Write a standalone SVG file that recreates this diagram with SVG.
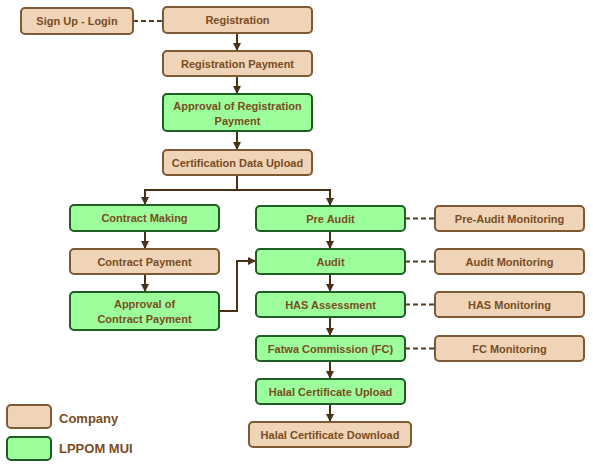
<svg xmlns="http://www.w3.org/2000/svg" width="593" height="465" viewBox="0 0 593 465">
<style>
.co rect{fill:#EFD4B7;stroke:#7E5A34;stroke-width:2}
.lp rect{fill:#9CFF9C;stroke:#1E5E22;stroke-width:2}
text{font-family:"Liberation Sans",Arial,sans-serif;font-weight:bold;font-size:11px;fill:#7A4C22;text-anchor:middle}
.leg{font-size:13px;text-anchor:start}
.ln{fill:none;stroke:#4B3018;stroke-width:2}
.ds{fill:none;stroke:#5A3A1C;stroke-width:2;stroke-dasharray:5 3}
</style>
<defs>
<marker id="ah" viewBox="0 0 8 8" refX="7" refY="4" markerWidth="4" markerHeight="4" orient="auto" markerUnits="strokeWidth">
<path d="M0,0 L8,4 L0,8 z" fill="#4B3018"/>
</marker>
</defs>
<rect width="593" height="465" fill="#ffffff"/>
<g id="connectors">
<path class="ds" d="M133,21 H163"/>
<path class="ds" d="M405,218.5 H435"/>
<path class="ds" d="M405,261.5 H435"/>
<path class="ds" d="M405,304.5 H435"/>
<path class="ds" d="M405,348.5 H435"/>
<path class="ln" marker-end="url(#ah)" d="M237,33 V50"/>
<path class="ln" marker-end="url(#ah)" d="M237,76 V93"/>
<path class="ln" marker-end="url(#ah)" d="M237,131 V149"/>
<path class="ln" d="M237,175 V190 M145,190 H331"/>
<path class="ln" marker-end="url(#ah)" d="M145,189 V204"/>
<path class="ln" marker-end="url(#ah)" d="M330,189 V205"/>
<path class="ln" marker-end="url(#ah)" d="M145,231 V248"/>
<path class="ln" marker-end="url(#ah)" d="M145,274 V291"/>
<path class="ln" marker-end="url(#ah)" d="M219,311 H237 V261 H255"/>
<path class="ln" marker-end="url(#ah)" d="M330,231 V248"/>
<path class="ln" marker-end="url(#ah)" d="M330,274 V291"/>
<path class="ln" marker-end="url(#ah)" d="M330,317 V335"/>
<path class="ln" marker-end="url(#ah)" d="M330,361 V378"/>
<path class="ln" marker-end="url(#ah)" d="M330,404 V421"/>
</g>
<g id="signup" class="co"><rect x="21" y="8" width="112" height="26" rx="4"/><text x="77" y="25">Sign Up - Login</text></g>
<g id="registration" class="co"><rect x="163" y="7" width="149" height="26" rx="4"/><text x="237.5" y="24">Registration</text></g>
<g id="regpay" class="co"><rect x="163" y="51" width="149" height="25" rx="4"/><text x="237.5" y="67.5">Registration Payment</text></g>
<g id="approvalreg" class="lp"><rect x="163" y="94" width="149" height="37" rx="4"/><text x="237.5" y="109.5">Approval of Registration</text><text x="237.5" y="124.5">Payment</text></g>
<g id="cdu" class="co"><rect x="163" y="150" width="149" height="25" rx="4"/><text x="237.5" y="166.5">Certification Data Upload</text></g>
<g id="contractmaking" class="lp"><rect x="70" y="205" width="149" height="26" rx="4"/><text x="144.5" y="222">Contract Making</text></g>
<g id="contractpay" class="co"><rect x="70" y="249" width="149" height="25" rx="4"/><text x="144.5" y="265.5">Contract Payment</text></g>
<g id="approvalcp" class="lp"><rect x="70" y="292" width="149" height="38" rx="4"/><text x="144.5" y="308">Approval of</text><text x="144.5" y="323">Contract Payment</text></g>
<g id="preaudit" class="lp"><rect x="256" y="206" width="149" height="25" rx="4"/><text x="330.5" y="222.5">Pre Audit</text></g>
<g id="audit" class="lp"><rect x="256" y="249" width="149" height="25" rx="4"/><text x="330.5" y="265.5">Audit</text></g>
<g id="has" class="lp"><rect x="256" y="292" width="149" height="25" rx="4"/><text x="330.5" y="308.5">HAS Assessment</text></g>
<g id="fatwa" class="lp"><rect x="256" y="336" width="149" height="25" rx="4"/><text x="330.5" y="352.5">Fatwa Commission (FC)</text></g>
<g id="upload" class="lp"><rect x="256" y="379" width="149" height="25" rx="4"/><text x="330.5" y="395.5">Halal Certificate Upload</text></g>
<g id="download" class="co"><rect x="249" y="422" width="162" height="25" rx="4"/><text x="330" y="438.5">Halal Certificate Download</text></g>
<g id="preauditmon" class="co"><rect x="435" y="206" width="149" height="25" rx="4"/><text x="509.5" y="222.5">Pre-Audit Monitoring</text></g>
<g id="auditmon" class="co"><rect x="435" y="249" width="149" height="25" rx="4"/><text x="509.5" y="265.5">Audit Monitoring</text></g>
<g id="hasmon" class="co"><rect x="435" y="292" width="149" height="25" rx="4"/><text x="509.5" y="308.5">HAS Monitoring</text></g>
<g id="fcmon" class="co"><rect x="435" y="336" width="149" height="25" rx="4"/><text x="509.5" y="352.5">FC Monitoring</text></g>
<g id="legend-company" class="co"><rect x="7" y="405" width="44" height="23" rx="4"/><text class="leg" x="59" y="423">Company</text></g>
<g id="legend-lppom" class="lp"><rect x="7" y="437" width="44" height="23" rx="4"/><text class="leg" x="59" y="453">LPPOM MUI</text></g>
</svg>
